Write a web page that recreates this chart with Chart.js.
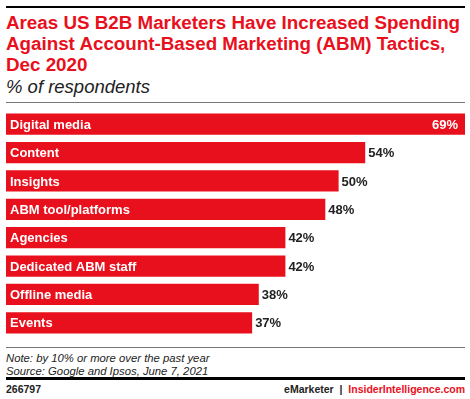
<!DOCTYPE html>
<html>
<head>
<meta charset="utf-8">
<script src="https://cdn.jsdelivr.net/npm/chart.js@4/dist/chart.umd.min.js"></script>
<style>
  body { margin: 0; width: 470px; height: 399px; background: #fff; position: relative; overflow: hidden; font-family: "Liberation Sans", Arial, sans-serif; }
  .abs { position: absolute; }
  #topline { left: 6px; top: 6px; width: 459px; height: 2px; background: #000; }
  #title { left: 6px; top: 12px; width: 470px; color: #e9101d; font-weight: bold; font-size: 18.8px; line-height: 21px; }
  #subtitle { left: 6px; top: 76px; font-style: italic; font-size: 18.5px; color: #222; }
  #sub-line { left: 6px; top: 102px; width: 459px; height: 1px; background: #777; }
  #wrap { left: 6px; top: 110px; width: 459px; height: 227px; }
  #note-line { left: 6px; top: 347px; width: 459px; height: 1px; background: #777; }
  #note { left: 6px; top: 352px; font-style: italic; font-size: 11.3px; line-height: 12.5px; color: #222; }
  #bottom-line { left: 6px; top: 377px; width: 459px; height: 3px; background: #000; }
  #code { left: 6px; top: 383px; font-weight: bold; font-size: 10.5px; color: #222; }
  #brand { right: 5px; top: 383px; font-weight: bold; font-size: 10.5px; color: #222; }
  #brand span { color: #e9101d; }
</style>
</head>
<body>
<div class="abs" id="topline"></div>
<div class="abs" id="title">Areas US B2B Marketers Have Increased Spending<br>Against Account-Based Marketing (ABM) Tactics,<br>Dec 2020</div>
<div class="abs" id="subtitle">% of respondents</div>
<div class="abs" id="sub-line"></div>
<div class="abs" id="wrap"><canvas id="chart"></canvas></div>
<div class="abs" id="note-line"></div>
<div class="abs" id="note">Note: by 10% or more over the past year<br>Source: Google and Ipsos, June 7, 2021</div>
<div class="abs" id="bottom-line"></div>
<div class="abs" id="code">266797</div>
<div class="abs" id="brand">eMarketer &nbsp;|&nbsp; <span>InsiderIntelligence.com</span></div>
<script>
const categories = ['Digital media', 'Content', 'Insights', 'ABM tool/platforms', 'Agencies', 'Dedicated ABM staff', 'Offline media', 'Events']
const respondents = [69, 54, 50, 48, 42, 42, 38, 37]
const barRed = '#e9101d'

// category names inside bars, values at the bar end
const barLabels = {
    id: 'barLabels',
    afterDatasetsDraw(chart) {
        const ctx = chart.ctx
        const meta = chart.getDatasetMeta(0)
        ctx.save()
        ctx.font = 'bold 13px "Liberation Sans", Arial, sans-serif'
        ctx.textBaseline = 'middle'
        meta.data.forEach((bar, i) => {
            const y = bar.y + 1
            ctx.fillStyle = '#fff'
            ctx.textAlign = 'left'
            ctx.fillText(categories[i], bar.base + 4, y)
            const txt = respondents[i] + '%'
            if (bar.x + 40 > chart.width) {
                ctx.textAlign = 'right'
                ctx.fillText(txt, bar.x - 7, y)
            } else {
                ctx.fillStyle = '#222'
                ctx.textAlign = 'left'
                ctx.fillText(txt, bar.x + 3, y)
            }
        })
        ctx.restore()
    }
}

new Chart(document.getElementById('chart'), {
    type: 'bar',
    data: {
        labels: categories,
        datasets: [{
            data: respondents,
            backgroundColor: barRed,
            borderWidth: 0,
            barPercentage: 0.75,
            categoryPercentage: 1
        }]
    },
    options: {
        indexAxis: 'y',
        responsive: true,
        maintainAspectRatio: false,
        animation: false,
        layout: { padding: 0 },
        plugins: { legend: { display: false }, tooltip: { enabled: false } },
        scales: {
            x: { display: false, min: 0, max: 69 },
            y: { display: false }
        }
    },
    plugins: [barLabels]
})
</script>
</body>
</html>
